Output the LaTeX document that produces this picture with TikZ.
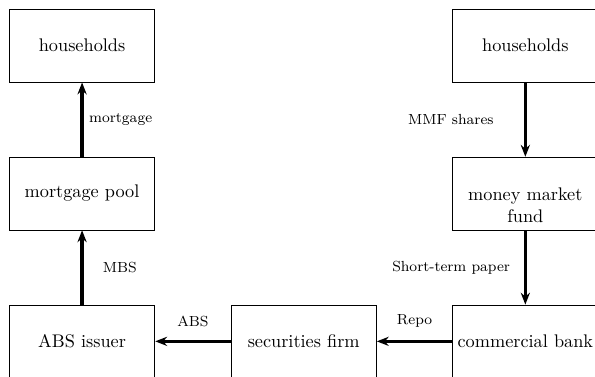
\documentclass[tikz,border=0pt]{standalone}
\usepackage{tikz}
\usetikzlibrary{positioning,arrows.meta,calc}
\tikzset{
  flowbox/.style={draw,minimum width=2.8cm,minimum height=1.4cm,inner sep=2pt,align=center},
  flowlabel/.style={font=\footnotesize,inner sep=2pt},
  every edge/.style={draw,-{Stealth[length=6.5pt,width=5pt]},line width=1.8pt},
}

\begin{document}
\begin{tikzpicture}[node distance=1.43cm and 1.45cm]

\node[flowbox] (abs) {ABS issuer};
\node[flowbox,right=of abs] (sf) {securities firm};
\node[flowbox,right=of sf] (cb) {commercial bank};
\node[flowbox,above=of abs] (pool) {mortgage pool};
\node[flowbox,above=of pool] (hhl) {households};
\node[flowbox,above=of cb,text height=32pt] (mmf) {money market\\fund};
\node[flowbox,above=of mmf] (hhr) {households};

\path
(pool) edge node[flowlabel,right=1pt] {mortgage} (hhl)
(abs) edge node[flowlabel,right=8.5pt] {MBS} (pool)
(hhr) edge node[flowlabel,left=14.5pt] {MMF shares} (mmf)
(mmf) edge node[flowlabel,left=5.5pt] {Short-term paper} (cb)
(cb) edge node[flowlabel,above=5pt] {Repo} (sf)
(sf) edge node[flowlabel,above=5pt] {ABS} (abs);

% the reference is cut on the right and at the bottom
\pgfresetboundingbox
\useasboundingbox ($(hhl.north west)+(-4.9pt,4.9pt)$) rectangle ($(cb.south east)+(-1.9pt,0.8pt)$);

\end{tikzpicture}
\end{document}
